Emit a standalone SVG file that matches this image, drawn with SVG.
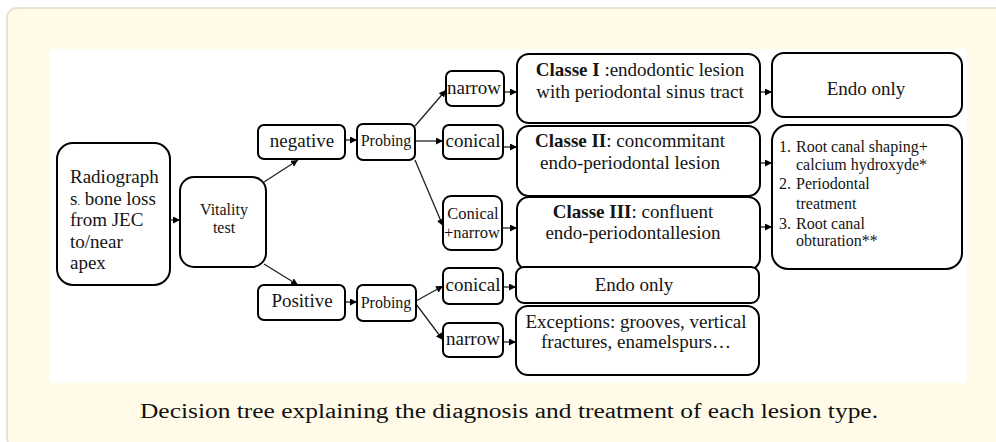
<svg xmlns="http://www.w3.org/2000/svg" width="996" height="442" viewBox="0 0 996 442">
<defs>
<marker id="ah" markerUnits="userSpaceOnUse" markerWidth="8" markerHeight="8" refX="7" refY="3.5" orient="auto">
<path d="M0,0 L7,3.5 L0,7 z" fill="#000"/>
</marker>
<style>
.box{fill:#fff;stroke:#000;stroke-width:2}
.t{font-family:"Liberation Serif","Times New Roman",serif;fill:#151515}
.c{text-anchor:middle}
.conn path{fill:none;stroke:#222;stroke-width:1.3;marker-end:url(#ah)}
</style>
</defs>
<rect x="7" y="8" width="1000" height="440" rx="10" fill="#fffbe8" stroke="#e6e3d6" stroke-width="2"/>
<rect x="49" y="49" width="918" height="334" fill="#fff"/>

<g class="conn">
<path d="M170,220 L180,220"/>
<path d="M264,182 L298,160"/>
<path d="M264,264 L298,285"/>
<path d="M345,140 L357,140"/>
<path d="M345,302 L357,302"/>
<path d="M415,126 L446,90"/>
<path d="M415,141 L443,141"/>
<path d="M415,160 L443,226"/>
<path d="M416,301 L443,286"/>
<path d="M416,304 L443,340"/>
<path d="M504,92 L517,92"/>
<path d="M503,147 L517,147"/>
<path d="M502,228 L517,228"/>
<path d="M503,287 L516,287"/>
<path d="M503,342 L516,342"/>
<path d="M760,92 L772,92"/>
<path d="M760,163 L772,163"/>
<path d="M760,227 L772,227"/>
</g>

<g id="radiographs">
<rect class="box" x="57" y="143" width="113" height="142" rx="16"/>
<text class="t" font-size="19" x="70" y="183">Radiograph</text>
<text class="t" font-size="19" x="70" y="205">s<tspan font-size="10">.</tspan> bone loss</text>
<text class="t" font-size="19" x="70" y="226">from JEC</text>
<text class="t" font-size="19" x="70" y="248">to/near</text>
<text class="t" font-size="19" x="70" y="269">apex</text>
</g>
<g id="vitality">
<rect class="box" x="180" y="177" width="86" height="90" rx="14"/>
<text class="t c" font-size="16" x="224" y="215">Vitality</text>
<text class="t c" font-size="16" x="224" y="233">test</text>
</g>
<g id="negative">
<rect class="box" x="258" y="125" width="87" height="34" rx="6"/>
<text class="t c" font-size="19" x="302" y="147">negative</text>
</g>
<g id="positive">
<rect class="box" x="258" y="285" width="87" height="35" rx="6"/>
<text class="t c" font-size="19" x="302" y="307">Positive</text>
</g>
<g id="probing1">
<rect class="box" x="357" y="124" width="58" height="36" rx="6"/>
<text class="t c" font-size="16" x="386" y="146">Probing</text>
</g>
<g id="probing2">
<rect class="box" x="357" y="285" width="59" height="36" rx="6"/>
<text class="t c" font-size="16" x="386" y="308">Probing</text>
</g>
<g id="narrow1">
<rect class="box" x="446" y="71" width="58" height="35" rx="6"/>
<text class="t c" font-size="19" x="474" y="94">narrow</text>
</g>
<g id="conical1">
<rect class="box" x="443" y="125" width="60" height="34" rx="6"/>
<text class="t c" font-size="19" x="473" y="147">conical</text>
</g>
<g id="conicalnarrow">
<rect class="box" x="443" y="196" width="59" height="54" rx="8"/>
<text class="t c" font-size="16.5" x="473" y="219">Conical</text>
<text class="t c" font-size="16.5" x="472" y="238">+narrow</text>
</g>
<g id="conical2">
<rect class="box" x="443" y="268" width="60" height="36" rx="6"/>
<text class="t c" font-size="19" x="473" y="291">conical</text>
</g>
<g id="narrow2">
<rect class="box" x="443" y="323" width="60" height="34" rx="6"/>
<text class="t c" font-size="19" x="473" y="345">narrow</text>
</g>
<g id="classe1">
<rect class="box" x="517" y="54" width="243" height="69" rx="12"/>
<text class="t c" font-size="19" x="640" y="76"><tspan font-weight="bold">Classe I</tspan> :endodontic lesion</text>
<text class="t c" font-size="19" x="640" y="98">with periodontal sinus tract</text>
</g>
<g id="classe2">
<rect class="box" x="517" y="126" width="243" height="70" rx="12"/>
<text class="t c" font-size="19" x="630" y="147"><tspan font-weight="bold">Classe II</tspan>: concommitant</text>
<text class="t c" font-size="19" x="630" y="169">endo-periodontal lesion</text>
</g>
<g id="classe3">
<rect class="box" x="517" y="197" width="243" height="73" rx="12"/>
<text class="t c" font-size="19" x="633" y="218"><tspan font-weight="bold">Classe III</tspan>: confluent</text>
<text class="t c" font-size="19" x="633" y="239">endo-periodontallesion</text>
</g>
<g id="endo2">
<rect class="box" x="516" y="267" width="243" height="36" rx="8"/>
<text class="t c" font-size="19" x="634" y="291">Endo only</text>
</g>
<g id="exceptions">
<rect class="box" x="516" y="306" width="243" height="69" rx="12"/>
<text class="t c" font-size="19" x="636" y="328">Exceptions: grooves, vertical</text>
<text class="t c" font-size="19" x="636" y="348">fractures, enamelspurs…</text>
</g>
<g id="endo1">
<rect class="box" x="772" y="53" width="190" height="64" rx="12"/>
<text class="t c" font-size="19" x="866" y="95">Endo only</text>
</g>
<g id="treatment">
<rect class="box" x="772" y="125" width="190" height="144" rx="16"/>
<text class="t" font-size="16" x="779" y="152">1.</text>
<text class="t" font-size="16" x="796" y="152">Root canal shaping+</text>
<text class="t" font-size="16" x="796" y="170">calcium hydroxyde*</text>
<text class="t" font-size="16" x="779" y="189">2.</text>
<text class="t" font-size="16" x="796" y="189">Periodontal</text>
<text class="t" font-size="16" x="796" y="209">treatment</text>
<text class="t" font-size="16" x="779" y="229">3.</text>
<text class="t" font-size="16" x="796" y="229">Root canal</text>
<text class="t" font-size="16" x="796" y="246">obturation**</text>
</g>

<text font-family="'Liberation Serif','Times New Roman',serif" font-size="20" fill="#111" x="140" y="418" textLength="738" lengthAdjust="spacingAndGlyphs">Decision tree explaining the diagnosis and treatment of each lesion type.</text>
</svg>
